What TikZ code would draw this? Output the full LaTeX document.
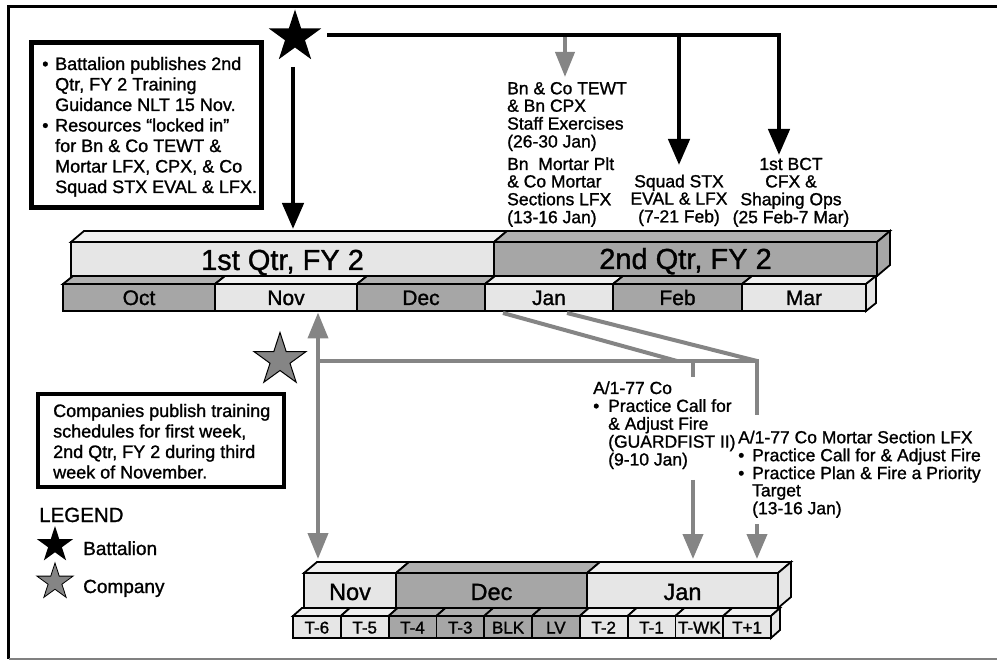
\documentclass[tikz,border=0pt]{standalone}
\usepackage{fontspec}
\setmainfont{Liberation Sans}[FakeBold=1.2]
\usetikzlibrary{arrows.meta,shapes.geometric}
\definecolor{lite}{HTML}{E6E6E6}
\definecolor{litetop}{HTML}{F0F0F0}
\definecolor{dark}{HTML}{A6A6A6}
\definecolor{darktop}{HTML}{B0B0B0}
\definecolor{conn}{HTML}{858585}
\newcommand{\fsz}[2]{\fontsize{#1}{#2}\selectfont}
\newcommand{\bl}[1]{\makebox[#1][l]{•}}
% x1, x2, ytop, ybot, dx, dy, colour
\newcommand{\slab}[7]{%
  \filldraw[barline, fill=#7top] (#1,#3) -- ++(#5,-#6) -- (#2+#5,#3-#6) -- (#2,#3) -- cycle;
  \filldraw[barline, fill=#7] (#1,#3) rectangle (#2,#4);
}
\newcommand{\sideface}[6]{%
  \filldraw[barline, fill=#6] (#1,#2) -- ++(#4,-#5) -- (#1+#4,#3-#5) -- (#1,#3) -- cycle;
}
\begin{document}
\begin{tikzpicture}[x=1pt,y=-1pt,
  barline/.style={line width=1.8pt, line join=miter, draw=black},
  blk/.style={line width=4.5pt, draw=black, line join=miter, -{Triangle[width=21pt,length=26pt]}},
  gry/.style={line width=4pt, draw=conn, -{Triangle[width=20pt,length=25pt]}},
  gline/.style={line width=4pt, draw=conn, line join=miter},
  txt/.style={inner sep=0pt, anchor=base west},
  ctxt/.style={inner sep=0pt, anchor=base},
  infobox/.style={draw=black, fill=white},
  starshape/.style={star, star points=5, star point ratio=2.618, inner sep=0pt}
]
\useasboundingbox (0,0) rectangle (997,660);

% frame
\draw[line width=3.5pt] (8.7,659) -- (8.7,6.5) -- (997,6.5);
\draw[line width=2pt, draw=gray] (8.7,659) -- (997,659);

% ---------- upper quarter bar ----------
\slab{71}{494}{242}{276}{13}{11}{lite}
\slab{494}{877}{242}{276}{13}{11}{dark}
\sideface{877}{242}{276}{13}{11}{dark}
\node[ctxt] (q1) at (282.5,270) {\fsz{29}{29}1st Qtr, FY 2};
\node[ctxt] (q2) at (685.5,269) {\fsz{29}{29}2nd Qtr, FY 2};

% ---------- upper month bar ----------
\slab{63}{215}{284}{311}{10}{8}{dark}
\slab{215}{357}{284}{311}{10}{8}{lite}
\slab{357}{485}{284}{311}{10}{8}{dark}
\slab{485}{613}{284}{311}{10}{8}{lite}
\slab{613}{742}{284}{311}{10}{8}{dark}
\slab{742}{866}{284}{311}{10}{8}{lite}
\sideface{866}{284}{311}{10}{8}{lite}
\foreach \n/\x/\t in {oct/139/Oct, nov/286/Nov, dec/421/Dec, jan/549/Jan, feb/677.5/Feb, mar/804/Mar}
  \node[ctxt] (m\n) at (\x,305) {\fsz{21}{21}\t};

% ---------- lower month bar ----------
\slab{304}{396}{573}{608}{13}{11}{lite}
\slab{396}{587}{573}{608}{13}{11}{dark}
\slab{587}{778}{573}{608}{13}{11}{lite}
\sideface{778}{573}{608}{13}{11}{lite}
\node[ctxt] (lnov) at (350,600) {\fsz{23.5}{23.5}Nov};
\node[ctxt] (ldec) at (491.5,600) {\fsz{23.5}{23.5}Dec};
\node[ctxt] (ljan) at (682.5,600) {\fsz{23.5}{23.5}Jan};

% ---------- week bar ----------
\foreach \i/\t/\c in {0/T-6/lite, 1/T-5/lite, 2/T-4/dark, 3/T-3/dark, 4/BLK/dark, 5/LV/dark, 6/T-2/lite, 7/T-1/lite, 8/T-WK/lite, 9/T+1/lite} {
  \pgfmathsetmacro{\xa}{293+47.8*\i}
  \pgfmathsetmacro{\xb}{293+47.8*(\i+1)}
  \slab{\xa}{\xb}{616}{638}{9}{8}{\c}
  \node[ctxt] (w\i) at ({(\xa+\xb)/2},633.5) {\fsz{17}{17}\t};
}
\sideface{771}{616}{638}{9}{8}{lite}

% ---------- battalion star & arrows ----------
\node[starshape, minimum size=55pt, fill=black] (bstar) at (295,37) {};
\coordinate (bs) at (327,35);
\coordinate (bc) at (779,35);
\coordinate (bctTip) at (779,155);
\coordinate (sqTop) at (679,35);
\coordinate (sqTip) at (679,165);
\coordinate (tewtTop) at (565,37.5);
\coordinate (tewtTip) at (565,77);
\coordinate (dnTop) at (293,67);
\coordinate (dnTip) at (293,229);
\draw[blk] (bs) -- (bc) -- (bctTip);
\draw[blk] (sqTop) -- (sqTip);
\draw[gry, -{Triangle[width=19pt,length=25pt]}] (tewtTop) -- (tewtTip);
\draw[blk] (dnTop) -- (dnTip);

% ---------- box 1 ----------
\draw[infobox, line width=5pt] (31.5,42.5) rectangle (261.5,207.5);
\node[txt] (box1) at (42,70) {\fsz{18}{20.5}\begin{tabular}[t]{@{}l@{}l@{}}
\bl{13pt} & Battalion publishes 2nd\\
 & Qtr, FY 2 Training\\
 & Guidance NLT 15 Nov.\\
\bl{13pt} & Resources “locked in”\\
 & for Bn \& Co TEWT \&\\
 & Mortar LFX, CPX, \& Co\\
 & Squad STX EVAL \& LFX.
\end{tabular}};

% ---------- upper annotations ----------
\node[txt] (tewt) at (507,94.3) {\fsz{17.5}{17.3}\begin{tabular}[t]{@{}l@{}}
Bn \& Co TEWT\\ \& Bn CPX\\ Staff Exercises\\ (26-30 Jan)\end{tabular}};
\node[txt] (mortar) at (507,170) {\fsz{17.5}{17.3}\begin{tabular}[t]{@{}l@{}}
Bn\ \ Mortar Plt\\ \& Co Mortar\\ Sections LFX\\ (13-16 Jan)\end{tabular}};
\node[ctxt] (squad) at (679,187.3) {\fsz{17.5}{17.3}\begin{tabular}[t]{@{}c@{}}
Squad STX\\ EVAL \& LFX\\ (7-21 Feb)\end{tabular}};
\node[ctxt] (bct) at (791,170) {\fsz{17.5}{17.3}\begin{tabular}[t]{@{}c@{}}
1st BCT\\ CFX \&\\ Shaping Ops\\ (25 Feb-7 Mar)\end{tabular}};

% ---------- company star & connectors ----------
\node[starshape, minimum size=55pt, fill=conn, draw=black, line width=1pt] (cstar) at (280,360) {};
\coordinate (dTop) at (318,312.5);
\coordinate (dBot) at (318,559);
\coordinate (hL) at (318,361);
\coordinate (hR) at (757,361);
\coordinate (vR) at (757,415);
\coordinate (s1a) at (503,313);
\coordinate (s1b) at (677,361);
\coordinate (s2a) at (567,313);
\coordinate (stubT) at (693,361);
\coordinate (stubB) at (693,377);
\coordinate (a1T) at (693,480);
\coordinate (a1B) at (693,559);
\coordinate (a2T) at (757,524);
\coordinate (a2B) at (757,559);
\draw[gry, {Triangle[width=20pt,length=26pt]}-{Triangle[width=20pt,length=26pt]}] (dTop) -- (dBot);
\draw[gline] (hL) -- (hR) -- (vR);
\draw[gline] (s1a) -- (s1b);
\draw[gline] (s2a) -- (hR);
\draw[gline] (stubT) -- (stubB);
\draw[gry] (a1T) -- (a1B);
\draw[gry] (a2T) -- (a2B);

% ---------- box 2 ----------
\draw[infobox, line width=4pt] (38,394) rectangle (284,487);
\node[txt] (box2) at (53,417) {\fsz{18}{20.5}\begin{tabular}[t]{@{}l@{}}
Companies publish training\\ schedules for first week,\\ 2nd Qtr, FY 2 during third\\ week of November.\end{tabular}};

% ---------- lower annotations ----------
\node[txt] (aco) at (593,394) {\fsz{17.5}{17.3}\begin{tabular}[t]{@{}l@{}l@{}}
\multicolumn{2}{@{}l@{}}{A/1-77 Co}\\
\bl{15pt} & Practice Call for\\
 & \& Adjust Fire\\
 & (GUARDFIST II)\\
 & (9-10 Jan)\end{tabular}};
\node[txt] (amort) at (738,443.3) {\fsz{17.5}{17.3}\begin{tabular}[t]{@{}l@{}l@{}}
\multicolumn{2}{@{}l@{}}{A/1-77 Co Mortar Section LFX}\\
\bl{14pt} & Practice Call for \& Adjust Fire\\
\bl{14pt} & Practice Plan \& Fire a Priority\\
 & Target\\
 & (13-16 Jan)\end{tabular}};

% ---------- legend ----------
\node[txt] (legend) at (39,522) {\fsz{20.5}{20.5}LEGEND};
\node[starshape, minimum size=38pt, fill=black] (lgb) at (55,545) {};
\node[txt] (lgbt) at (83,555) {\fsz{19}{19}Battalion};
\node[starshape, minimum size=38pt, fill=conn, draw=black, line width=0.8pt] (lgc) at (55,582) {};
\node[txt] (lgct) at (83,593) {\fsz{19}{19}Company};
\end{tikzpicture}
\end{document}
